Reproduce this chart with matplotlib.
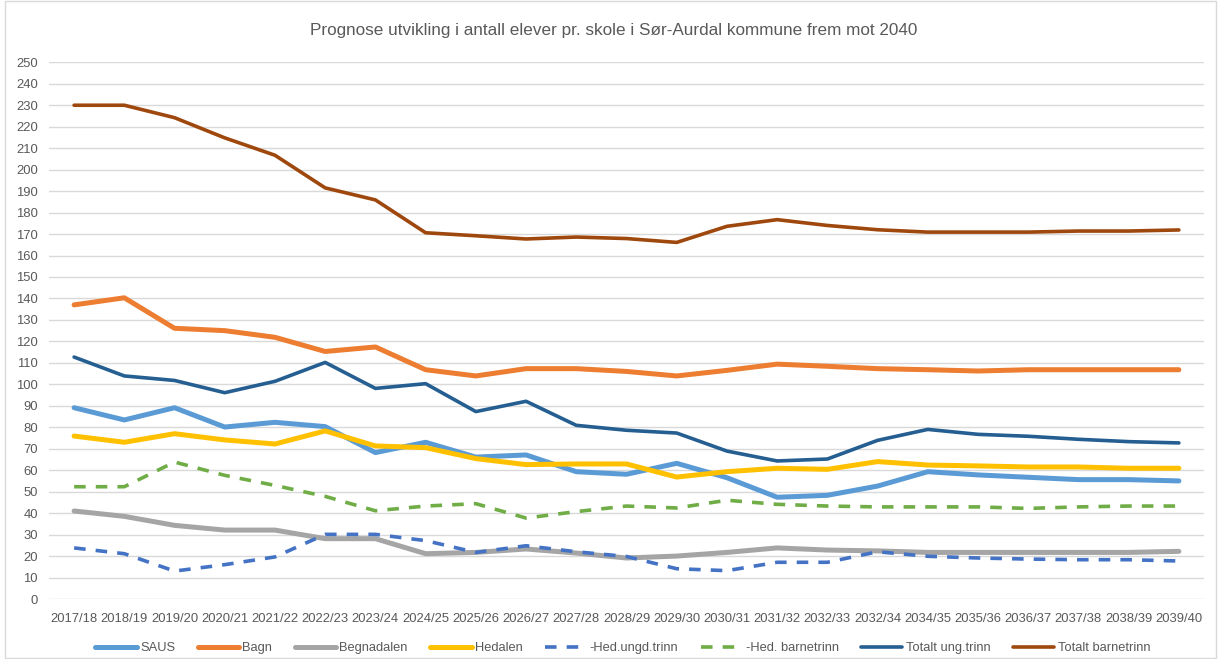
import matplotlib
matplotlib.use("Agg")
import matplotlib.pyplot as plt
from matplotlib.patches import Rectangle

plt.rcParams['font.family'] = ['Liberation Sans', 'DejaVu Sans']

categories = ["2017/18", "2018/19", "2019/20", "2020/21", "2021/22", "2022/23", "2023/24",
              "2024/25", "2025/26", "2026/27", "2027/28", "2028/29", "2029/30", "2030/31",
              "2031/32", "2032/33", "2032/34", "2034/35", "2035/36", "2036/37", "2037/38",
              "2038/39", "2039/40"]

saus = [89.1, 83.4, 89.1, 80.1, 82.3, 80.3, 68.2, 73.0, 66.1, 67.1, 59.3, 58.1, 63.2, 56.5,
        47.4, 48.3, 52.6, 59.3, 57.8, 56.7, 55.6, 55.6, 55.0]
bagn = [137.0, 140.3, 126.1, 125.0, 121.9, 115.3, 117.4, 106.8, 103.9, 107.3, 107.3, 106.0,
        103.9, 106.5, 109.4, 108.4, 107.3, 106.8, 106.2, 106.8, 106.8, 106.8, 106.8]
begnadalen = [41.0, 38.5, 34.3, 32.1, 32.1, 28.1, 28.1, 21.1, 21.7, 23.3, 21.4, 19.1, 20.0,
              21.7, 23.8, 22.8, 22.4, 21.7, 21.7, 21.7, 21.7, 21.7, 22.2]
hedalen = [75.9, 73.0, 77.0, 74.1, 72.2, 78.3, 71.3, 70.5, 65.4, 62.6, 62.9, 62.9, 56.8,
           59.3, 60.9, 60.4, 64.0, 62.4, 62.0, 61.5, 61.5, 60.9, 60.9]
hed_ungd = [23.8, 21.1, 13.0, 16.0, 19.6, 30.1, 30.1, 27.2, 21.7, 24.8, 22.0, 19.8, 14.1,
            13.2, 17.1, 17.1, 22.0, 19.9, 19.1, 18.6, 18.3, 18.3, 17.7]
hed_barn = [52.3, 52.3, 63.8, 57.6, 52.9, 47.8, 41.1, 43.3, 44.4, 37.7, 40.7, 43.3, 42.4,
            46.0, 44.1, 43.3, 42.9, 42.9, 42.9, 42.2, 42.9, 43.3, 43.3]
totalt_ung = [112.7, 103.9, 101.8, 96.1, 101.4, 110.2, 98.1, 100.3, 87.3, 92.1, 80.9, 78.6,
              77.3, 68.9, 64.3, 65.2, 73.9, 79.0, 76.7, 75.8, 74.4, 73.3, 72.7]
totalt_barn = [230.0, 230.0, 224.2, 214.8, 206.7, 191.5, 185.9, 170.6, 169.2, 167.7, 168.6,
               167.9, 166.1, 173.6, 176.7, 174.0, 172.0, 170.9, 170.9, 170.9, 171.4, 171.4, 171.9]

y_ticks = list(range(0, 251, 10))

series = [
    ("SAUS", saus, "#5B9BD5", "-", 3.6),
    ("Bagn", bagn, "#ED7D31", "-", 3.6),
    ("Begnadalen", begnadalen, "#A5A5A5", "-", 3.6),
    ("Hedalen", hedalen, "#FFC000", "-", 3.6),
    ("-Hed.ungd.trinn", hed_ungd, "#4472C4", (0, (3.2, 2.8)), 2.6),
    ("-Hed. barnetrinn", hed_barn, "#70AD47", (0, (3.2, 2.8)), 2.6),
    ("Totalt ung.trinn", totalt_ung, "#255E91", "-", 2.6),
    ("Totalt barnetrinn", totalt_barn, "#9E480E", "-", 2.6),
]

fig = plt.figure(figsize=(12.21, 6.59), dpi=100)
fig.patches.append(Rectangle((0.004, 0.002), 0.992, 0.996, transform=fig.transFigure,
                             fill=False, edgecolor="#D9D9D9", linewidth=1.0))
ax = fig.add_axes([49/1221, 1-599/659, (1204-49)/1221, (599-62.3)/659])

x = list(range(len(categories)))
for label, vals, color, ls, lw in series:
    ax.plot(x, vals, color=color, linestyle=ls, linewidth=lw, label=label,
            solid_capstyle='round', dash_capstyle='butt')

ax.set_xlim(-0.5, len(categories) - 0.5)
ax.set_ylim(0, 250)
ax.set_yticks(y_ticks)
ax.set_xticks(x)
ax.set_xticklabels(categories)
ax.tick_params(axis='both', length=0, colors="#595959", labelsize=9.4)
ax.tick_params(axis='x', pad=10)
ax.tick_params(axis='y', pad=8)
ax.grid(axis='y', color="#D9D9D9", linewidth=1.0)
ax.set_axisbelow(True)
for s in ax.spines.values():
    s.set_visible(False)

fig.text(0.5025, 1-31/659, "Prognose utvikling i antall elever pr. skole i Sør-Aurdal kommune frem mot 2040",
         ha='center', va='center', fontsize=12.3, color="#595959")

leg = fig.legend(loc='center', bbox_to_anchor=(0.51, 1-648/659), ncol=8, frameon=False,
                 fontsize=9.3, handlelength=3.2, columnspacing=1.75, handletextpad=0.25)
for t in leg.get_texts():
    t.set_color("#595959")

fig.savefig("out.png", dpi=100)
